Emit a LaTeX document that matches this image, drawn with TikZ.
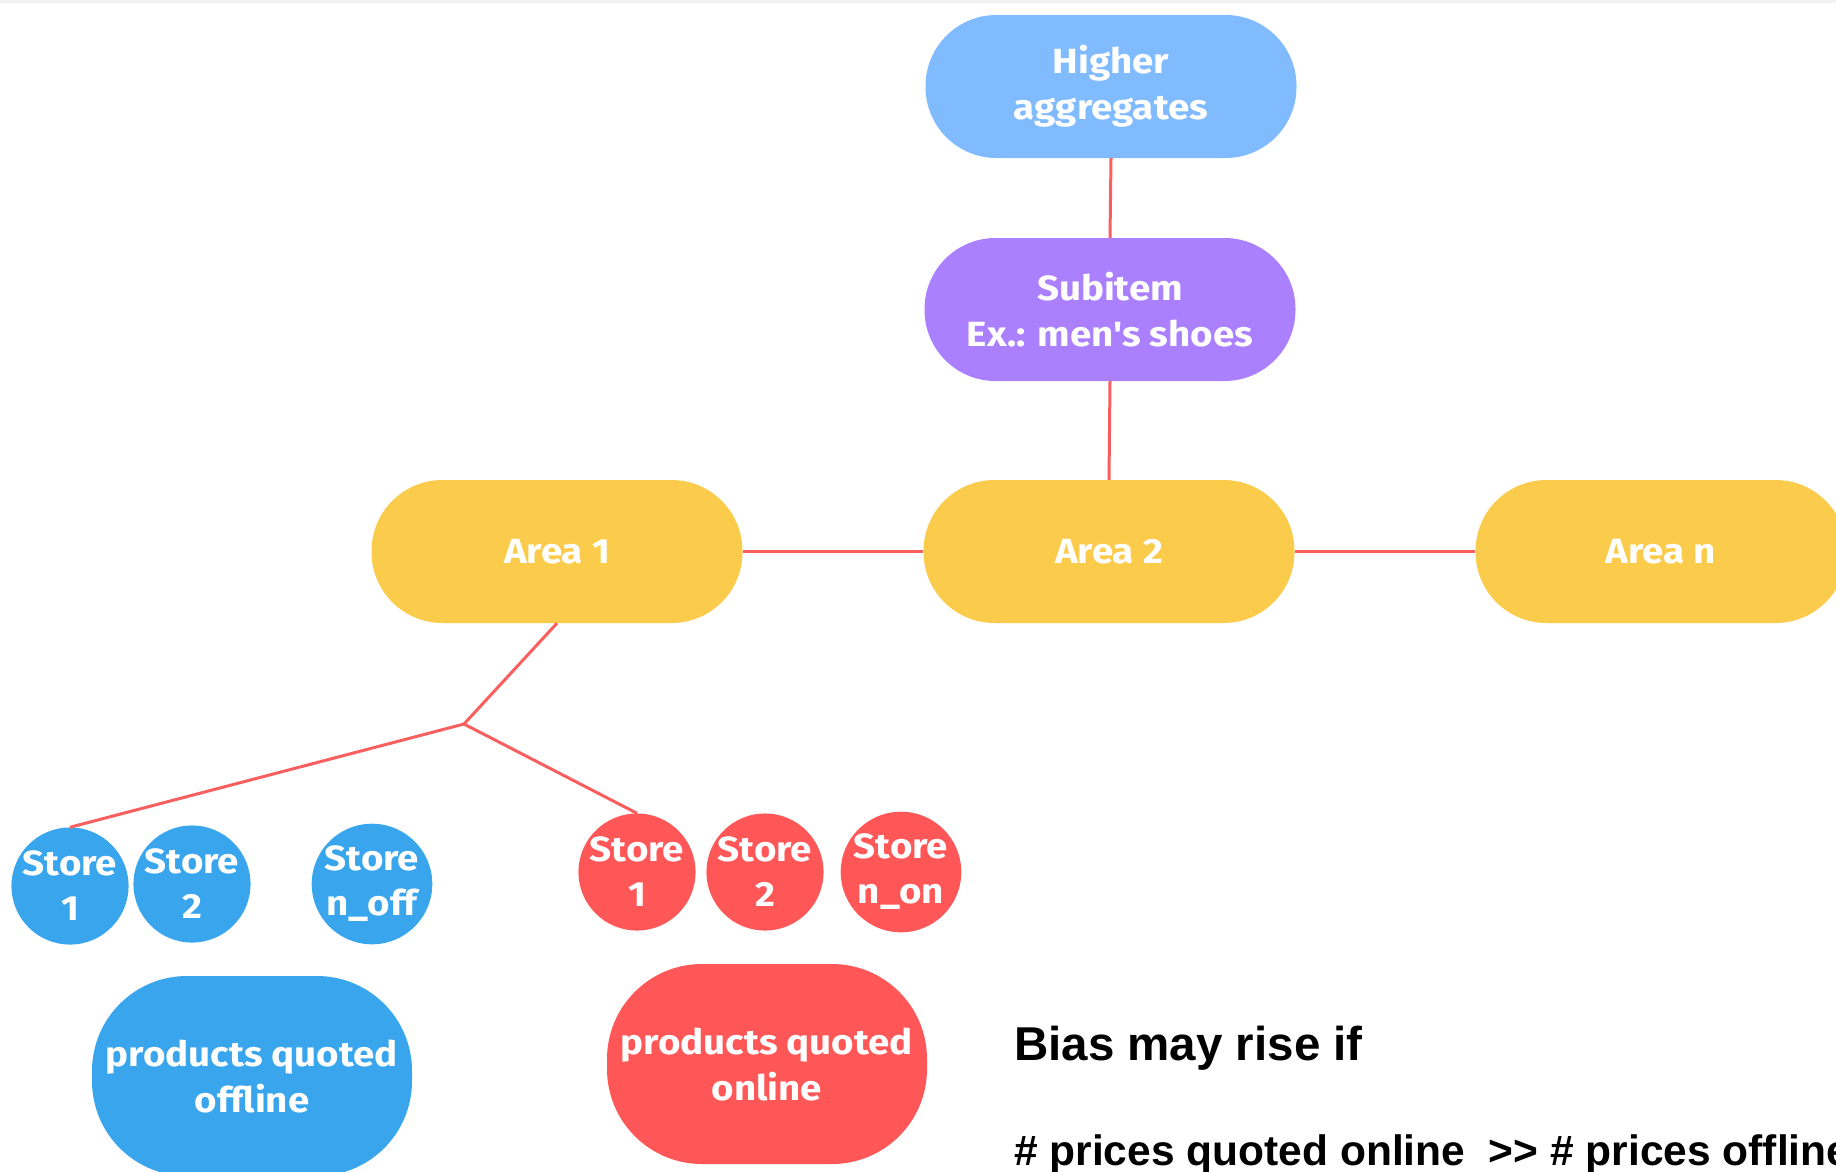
\documentclass[tikz,border=0pt]{standalone}
\usepackage{fontspec}
\setmainfont[FakeStretch=1.1]{Fira Sans}
\newfontfamily\arialf{Liberation Sans}
\definecolor{cHigh}{RGB}{128,187,255}
\definecolor{cSub}{RGB}{171,128,255}
\definecolor{cArea}{RGB}{251,204,76}
\definecolor{cBlue}{RGB}{56,165,236}
\definecolor{cRed}{RGB}{255,87,87}
\definecolor{cLine}{RGB}{250,95,95}
\definecolor{cBand}{RGB}{242,242,242}
\begin{document}
\begin{tikzpicture}[x=1pt,y=-1pt,
  pill/.style={rectangle, rounded corners=71pt, minimum width=371pt, minimum height=143pt,
    inner sep=0pt, text=white, align=center, font=\fontsize{35}{46}\selectfont\bfseries},
  storec/.style={circle, minimum size=117pt, inner sep=0pt, text=white, align=center,
    font=\fontsize{35}{45}\selectfont\bfseries},
  prod/.style={rectangle, rounded corners=95pt, minimum width=320pt, minimum height=200pt,
    inner sep=0pt, text=white, align=center, font=\fontsize{35}{46}\selectfont\bfseries},
  conn/.style={draw=cLine, line width=3pt},
  bias/.style={anchor=base west, inner sep=0pt, font=\arialf\bfseries\fontsize{47.5}{50}\selectfont}
  ]
\useasboundingbox (0,0) rectangle (1836,1171);
\clip (0,0) rectangle (1836,1171);
\fill[white] (0,0) rectangle (1836,1171);
\fill[cBand] (0,0) rectangle (1836,3);

\node[pill, fill=cHigh] (hig) at (1111,86.5) {Higher\\aggregates};
\node[pill, fill=cSub] (sub) at (1110,309.5) {Subitem\\Ex.: men\textquotesingle s shoes};
\node[pill, fill=cArea] (a1) at (557,551.5) {Area 1};
\node[pill, fill=cArea] (a2) at (1109,551.5) {Area 2};
\node[pill, fill=cArea] (an) at (1661,551.5) {Area n};

\node[storec, fill=cBlue] (bs1) at (70,886) {Store\\1};
\node[storec, fill=cBlue] (bs2) at (192,884) {Store\\2};
\node[storec, fill=cBlue] (bsn) at (372,884) {Store\\n\_off};
\node[storec, fill=cRed] (rs1) at (637,872) {Store\\1};
\node[storec, fill=cRed] (rs2) at (765,872) {Store\\2};
\node[storec, fill=cRed] (rsn) at (901,872) {Store\\n\_on};

\node[prod, fill=cBlue] (poff) at (252,1076) {products quoted\\offline};
\node[prod, fill=cRed] (pon) at (767,1064) {products quoted\\online};

\coordinate (j) at (464,724);
\draw[conn] (hig.south) -- (sub.north);
\draw[conn] (sub.south) -- (a2.north);
\draw[conn] (a1.east) -- (a2.west);
\draw[conn] (a2.east) -- (an.west);
\draw[conn] (a1.south) -- (j);
\draw[conn] (j) -- (bs1.north);
\draw[conn] (j) -- (rs1.north);

\node[bias] (b1) at (1014,1060) {Bias may rise if};
\node[bias, font=\arialf\bfseries\fontsize{42.5}{46}\selectfont] (b2) at (1014,1165) {\# prices quoted online \ {>}{>} \# prices offline};
\end{tikzpicture}
\end{document}
